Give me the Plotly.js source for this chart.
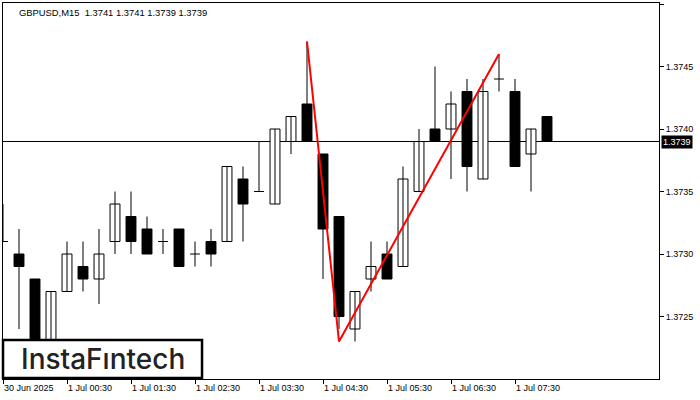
<!DOCTYPE html>
<html>
<head>
<meta charset="utf-8">
<script src="https://cdn.plot.ly/plotly-3.0.1.min.js"></script>
<style>
html,body{margin:0;padding:0;background:#fff;}
#chart{width:700px;height:400px;}
</style>
</head>
<body>
<div id="chart"></div>
<script>
// ---- data ----
var times = ["23:30","23:45","00:00","00:15","00:30","00:45","01:00","01:15","01:30","01:45",
             "02:00","02:15","02:30","02:45","03:00","03:15","03:30","03:45","04:00","04:15",
             "04:30","04:45","05:00","05:15","05:30","05:45","06:00","06:15","06:30","06:45",
             "07:00","07:15","07:30","07:45","08:00"];
var open  = [1.3731,1.3730,1.3728,1.3721,1.3727,1.3729,1.3728,1.3731,1.3733,1.3732,
             1.3731,1.3732,1.3730,1.3731,1.3731,1.3736,1.3735,1.3734,1.3739,1.3742,
             1.3738,1.3733,1.3724,1.3728,1.3730,1.3729,1.3735,1.3740,1.3740,1.3743,
             1.3736,1.3744,1.3743,1.3738,1.3741];
var high  = [1.3734,1.3732,1.3728,1.3727,1.3731,1.3731,1.3732,1.3735,1.3735,1.3733,
             1.3732,1.3732,1.3731,1.3732,1.3737,1.3737,1.3739,1.3740,1.3741,1.3747,
             1.3738,1.3733,1.3727,1.3731,1.3731,1.3737,1.3740,1.3745,1.3743,1.3744,
             1.3744,1.3746,1.3744,1.3740,1.3741];
var low   = [1.3731,1.3724,1.3720,1.3720,1.3727,1.3727,1.3726,1.3730,1.3730,1.3730,
             1.3730,1.3729,1.3729,1.3729,1.3731,1.3731,1.3735,1.3734,1.3738,1.3739,
             1.3728,1.3724,1.3723,1.3727,1.3728,1.3729,1.3735,1.3739,1.3736,1.3735,
             1.3736,1.3743,1.3737,1.3735,1.3739];
var close = [1.3731,1.3729,1.3721,1.3727,1.3730,1.3728,1.3730,1.3734,1.3731,1.3730,
             1.3731,1.3729,1.3730,1.3730,1.3737,1.3734,1.3735,1.3740,1.3741,1.3739,
             1.3732,1.3725,1.3727,1.3729,1.3728,1.3736,1.3739,1.3739,1.3742,1.3737,
             1.3743,1.3744,1.3737,1.3740,1.3739];
var tickTimes  = ["23:30","00:30","01:30","02:30","03:30","04:30","05:30","06:30","07:30"];
var tickLabels = ["30 Jun 2025","1 Jul 00:30","1 Jul 01:30","1 Jul 02:30","1 Jul 03:30",
                  "1 Jul 04:30","1 Jul 05:30","1 Jul 06:30","1 Jul 07:30"];
var priceTicks = [1.3725,1.3730,1.3735,1.3740,1.3745,1.3750];
var patternTimes  = ["04:15","04:45","07:15"];
var patternPrices = [1.3747,1.3723,1.3746];
var currentPrice = 1.3739;
var titleText = "GBPUSD,M15  1.3741 1.3741 1.3739 1.3739";
var logoText = "InstaFıntech";

// ---- build traces ----
var idx = times.map(function(t,i){return i;});
var bodyW = 0.62;
var wx=[], wy=[];
idx.forEach(function(i){ wx.push(i,i,null); wy.push(low[i],high[i],null); });
var upX=[],upB=[],upH=[],dnX=[],dnB=[],dnH=[],djX=[],djY=[];
idx.forEach(function(i){
  var o=open[i], c=close[i];
  if (Math.abs(c-o) < 1e-9) { djX.push(i-bodyW/2,i+bodyW/2,null); djY.push(o,o,null); }
  else if (c>o) { upX.push(i); upB.push(o); upH.push(c-o); }
  else { dnX.push(i); dnB.push(c); dnH.push(o-c); }
});
var traces = [
  {type:'scatter',mode:'lines',x:wx,y:wy,line:{color:'#000',width:1},hoverinfo:'skip',showlegend:false},
  {type:'scatter',mode:'lines',x:djX,y:djY,line:{color:'#000',width:1},hoverinfo:'skip',showlegend:false},
  {type:'bar',x:upX,y:upH,base:upB,width:bodyW,marker:{color:'#fff',line:{color:'#000',width:1}},hoverinfo:'skip',showlegend:false},
  {type:'bar',x:dnX,y:dnH,base:dnB,width:bodyW,marker:{color:'#000',line:{color:'#000',width:1}},hoverinfo:'skip',showlegend:false},
  {type:'scatter',mode:'lines',x:patternTimes.map(function(t){return times.indexOf(t);}),y:patternPrices,
   line:{color:'#ff0000',width:2},hoverinfo:'skip',showlegend:false}
];

var font = {family:'"Liberation Sans", Arial, sans-serif', size:9, color:'#000'};
var layout = {
  width:700, height:400,
  margin:{l:3,r:41,t:3,b:21,pad:0},
  paper_bgcolor:'#fff', plot_bgcolor:'#fff',
  barmode:'overlay', showlegend:false, hovermode:false,
  font:font,
  xaxis:{range:[0,41], showgrid:false, zeroline:false, showline:true, linecolor:'#000', linewidth:1, mirror:true,
         tickmode:'array', tickvals:tickTimes.map(function(t){return times.indexOf(t);}), ticktext:tickLabels,
         ticks:'outside', ticklen:4, tickcolor:'#000', ticklabelposition:'outside right', tickfont:font, fixedrange:true},
  yaxis:{range:[1.3720,1.375008], side:'right', showgrid:false, zeroline:false, showline:true, linecolor:'#000', linewidth:1, mirror:true,
         tickmode:'array', tickvals:priceTicks, ticktext:priceTicks.map(function(v){return v.toFixed(4);}),
         ticks:'outside', ticklen:4, tickcolor:'#000', tickfont:font, fixedrange:true},
  shapes:[
    {type:'line', xref:'paper', x0:0, x1:1, yref:'y', y0:currentPrice, y1:currentPrice, line:{color:'#000',width:1}, layer:'below'},
    {type:'rect', xref:'paper', yref:'paper', x0:0, x1:0.3034, y0:0.0027, y1:0.1037, fillcolor:'#fff', line:{color:'#000',width:2.5}, layer:'above'}
  ],
  annotations:[
    {xref:'paper', yref:'paper', x:0, y:1, xanchor:'left', yanchor:'top', xshift:14, yshift:-2, showarrow:false,
     text:titleText, font:{family:font.family,size:9.4,color:'#000'}},
    {xref:'paper', yref:'y', x:1, y:currentPrice, xanchor:'left', yanchor:'middle', xshift:2, showarrow:false,
     text:currentPrice.toFixed(4), bgcolor:'#000', font:{family:font.family,size:9,color:'#fff'}, borderpad:1},
    {xref:'paper', yref:'paper', x:0.1518, y:0.0532, xanchor:'center', yanchor:'middle', showarrow:false,
     text:logoText, font:{family:'Inter, "Noto Sans", sans-serif', size:28, weight:500, color:'#222'}}
  ]
};
Plotly.newPlot('chart', traces, layout, {staticPlot:true, displayModeBar:false});
</script>
</body>
</html>
